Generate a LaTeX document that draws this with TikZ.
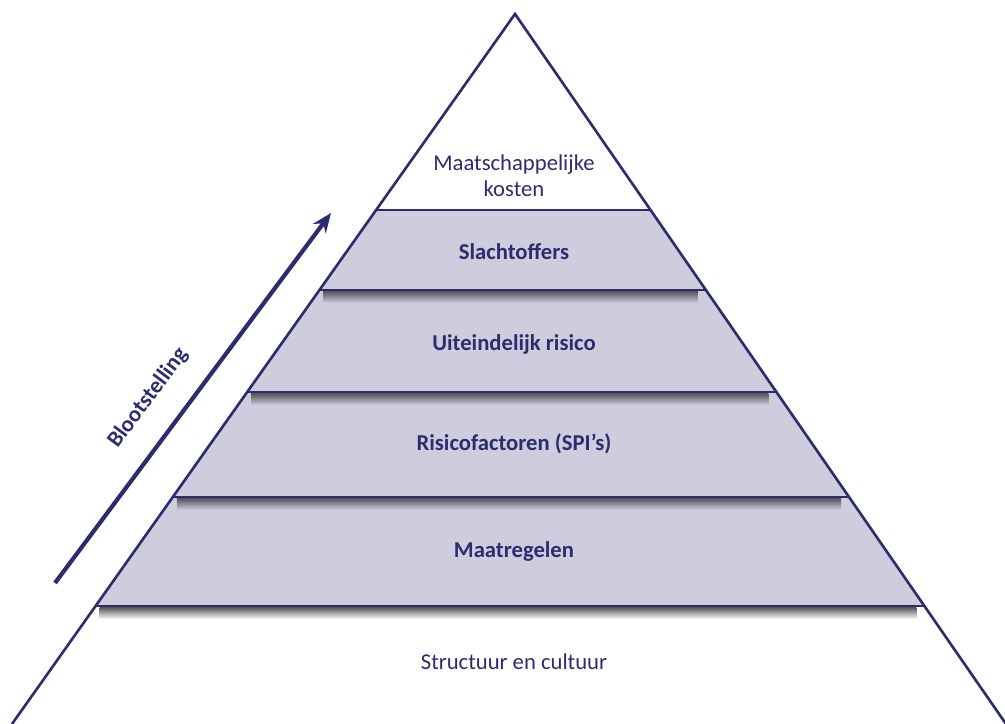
\documentclass[tikz,border=0pt]{standalone}
\usepackage{fontspec}
\setmainfont{Carlito}
\usetikzlibrary{calc,arrows.meta}

\definecolor{navy}{RGB}{43,45,110}
\definecolor{band}{RGB}{206,204,221}

\tikzset{
  level/.style={text=navy, font=\fontsize{12.9}{15}\selectfont, align=center},
  boldlevel/.style={level, font=\fontsize{12.9}{15}\selectfont\bfseries},
}

\begin{document}
\begin{tikzpicture}[x=0.02cm, y=-0.02cm, line width=1.5pt]
\useasboundingbox (0,0) rectangle (1005,724);

% corners of the pyramid
\coordinate (apex) at (515,14);
\coordinate (baseL) at (12,724);
\coordinate (baseR) at (1006,724);

% band lines (fraction of the height)
\foreach \n/\t in {1/0.2761, 2/0.3887, 3/0.5324, 4/0.6803, 5/0.8338}{
  \coordinate (lineL-\n) at ($(apex)!\t!(baseL)$);
  \coordinate (lineR-\n) at ($(apex)!\t!(baseR)$);
}

\fill[band] (lineL-1) -- (lineR-1) -- (lineR-5) -- (lineL-5) -- cycle;

% soft shadow under each band
\begin{scope}
  \clip (apex) -- (baseL) -- (baseR) -- cycle;
  \foreach \n/\c in {2/band, 3/band, 4/band, 5/white}
    \shade[top color=black!60!band, bottom color=\c]
      ($(lineL-\n)+(4,1)$) rectangle ($(lineR-\n)+(-8,13)$);
\end{scope}

\foreach \n in {1,...,5}
  \draw[navy] (lineL-\n) -- (lineR-\n);
\draw[navy] (baseL) -- (apex) -- (baseR);

\node[level] (kosten) at (514,176) {Maatschappelijke\\kosten};
\node[boldlevel] (slacht) at (514,252) {Slachtoffers};
\node[boldlevel] (risico) at (514,344) {Uiteindelijk risico};
\node[boldlevel] (factor) at (514,444) {Risicofactoren (SPI’s)};
\node[boldlevel] (maatr) at (514,551) {Maatregelen};
\node[level] (cultuur) at (514,662) {Structuur en cultuur};

% exposure arrow
\coordinate (tail) at (55,583);
\coordinate (head) at (331,213);
\draw[navy, line width=2.4pt, -{Stealth[length=11pt, width=9pt]}] (tail) -- (head);
\node[boldlevel, rotate=53.3] (bloot) at (148,398) {Blootstelling};
\end{tikzpicture}
\end{document}
